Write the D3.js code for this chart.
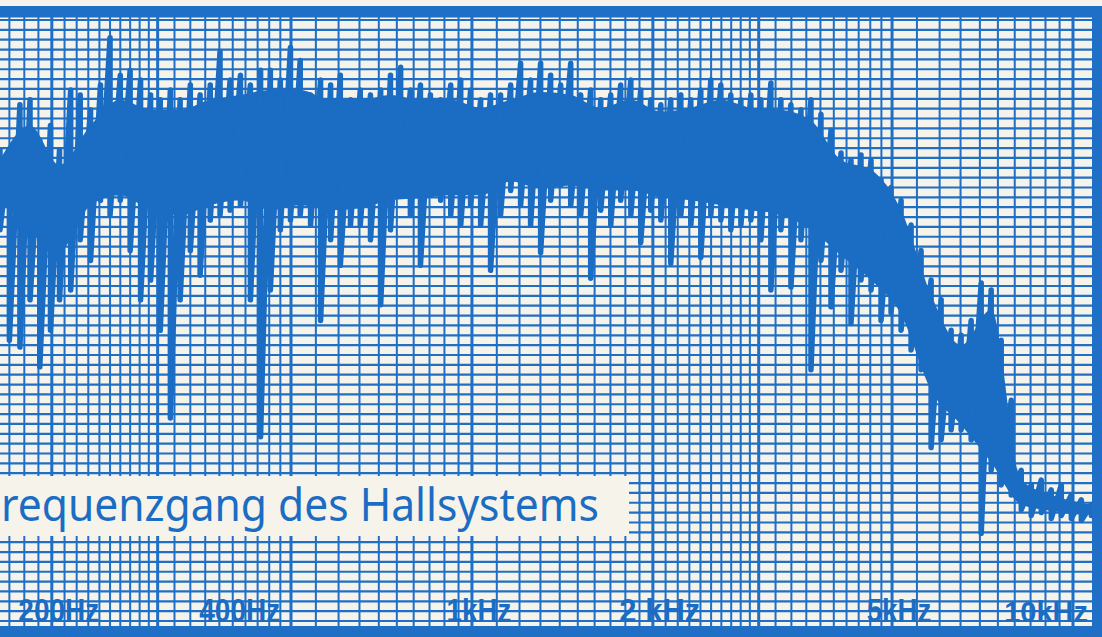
<!DOCTYPE html>
<html><head><meta charset="utf-8">
<script src="https://cdn.jsdelivr.net/npm/d3@7"></script>
<style>html,body{margin:0;padding:0;background:#f6f3ea;} svg{display:block;}</style>
</head><body><svg id="c" width="1102" height="637"></svg>
<script>
// Sweep frequencies (Hz) at which the pen trace was read
const sweepHz = [164,170,177,184,191,199,206,215,223,232,
  241,250,260,270,281,292,303,315,327,340,
  353,367,381,396,412,428,445,462,480,499,
  518,539,560,582,604,628,652,678,705,732,
  761,790,821,853,887,922,958,995,1034,1074,
  1116,1160,1205,1252,1301,1352,1405,1460,1517,1576,
  1638,1702,1768,1838,1909,1984,2062,2142,2226,2313,
  2403,2497,2595,2696,2802,2911,3025,3143,3266,3394,
  3527,3665,3808,3957,4112,4272,4439,4613,4793,4981,
  5176,5378,5588,5807,6034,6270,6515,6770,7035,7310,
  7596,7893,8202,8523,8856,9202,9562,9936,10325,10729];
// Upper excursion of the pen (dB, 0 = top of the paper)
const peakDb = [-13.2,-13.2,-8.6,-8.1,-12.2,-10.7,-13.2,-7.1,-7.6,-9.1,
  -6.6,-1.8,-5.6,-5.1,-6.1,-7.6,-8.1,-7.1,-8.1,-6.6,
  -7.6,-6.6,-3.2,-6.1,-5.6,-6.6,-5.1,-5.1,-6.1,-2.8,
  -4.1,-7.6,-6.1,-6.6,-5.6,-8.1,-7.1,-7.6,-7.1,-5.6,
  -4.8,-7.1,-6.6,-7.6,-8.1,-6.6,-6.1,-7.1,-8.1,-7.6,
  -7.6,-6.6,-4.4,-6.1,-4.4,-5.6,-6.6,-4.4,-7.6,-7.1,
  -8.1,-7.6,-6.6,-6.1,-7.1,-8.1,-8.6,-8.1,-7.6,-8.1,
  -7.1,-6.1,-6.6,-7.6,-8.1,-7.6,-8.1,-6.4,-8.1,-8.6,
  -9.1,-8.1,-9.6,-11.2,-13.5,-14.2,-13.7,-14.2,-16.2,-17.0,
  -18.3,-20.8,-23.4,-26.4,-28.4,-31.5,-32.0,-30.5,-26.7,-27.4,
  -32.5,-38.6,-45.7,-47.2,-46.7,-47.7,-47.2,-48.2,-48.7,-49.2];
// Lower excursion of the pen (dB)
const dipDb = [-21.3,-32.5,-33.2,-28.4,-35.2,-31.5,-28.4,-27.4,-22.3,-24.4,
  -18.3,-19.8,-18.3,-23.4,-28.4,-26.4,-31.5,-40.4,-28.4,-23.4,
  -25.9,-20.3,-19.8,-19.3,-18.8,-28.4,-42.3,-27.4,-21.3,-20.3,
  -19.8,-20.8,-30.5,-22.3,-24.9,-20.8,-20.8,-22.3,-28.9,-21.3,
  -17.8,-19.8,-24.9,-17.8,-18.3,-19.8,-20.8,-18.8,-20.8,-25.4,
  -19.8,-17.3,-18.8,-20.8,-23.6,-18.3,-16.8,-18.8,-19.8,-26.2,
  -19.3,-20.8,-18.3,-19.8,-22.6,-19.3,-20.3,-24.7,-19.8,-20.8,
  -24.1,-19.8,-20.3,-21.3,-20.8,-20.3,-22.3,-27.4,-21.3,-27.1,
  -22.3,-35.5,-24.4,-29.1,-25.4,-30.8,-26.4,-27.4,-30.5,-29.7,
  -31.5,-33.5,-35.5,-43.4,-42.6,-41.6,-41.6,-42.6,-52.1,-45.7,
  -47.2,-48.2,-49.7,-50.3,-50.0,-50.6,-50.3,-50.6,-50.8,-50.3];
// Dense (solid) band of the trace
const coreHz = [164,184,206,232,260,292,327,367,412,462,
  518,582,652,732,821,922,1034,1160,1301,1460,
  1638,1838,2062,2313,2595,2911,3266,3665,4112,4613,
  5176,5807,6515,7310,8202,9202,10325,10729];
const coreTopDb = [-14.2,-10.7,-14.7,-10.7,-8.1,-9.1,-9.1,-8.1,-7.6,-7.1,
  -7.1,-8.1,-8.1,-7.6,-8.1,-8.1,-8.9,-8.1,-7.3,-7.6,
  -8.9,-8.1,-9.3,-8.9,-8.1,-8.9,-9.1,-10.2,-14.2,-15.2,
  -19.3,-27.9,-33.0,-29.4,-46.7,-48.2,-49.0,-49.2];
const coreBotDb = [-18.3,-21.3,-23.4,-18.8,-17.8,-19.3,-19.8,-18.8,-18.3,-19.3,
  -18.8,-19.3,-19.1,-18.3,-18.1,-17.8,-17.8,-16.4,-17.1,-16.8,
  -17.3,-17.3,-18.0,-18.3,-18.8,-19.3,-19.8,-21.3,-23.9,-26.4,
  -29.9,-37.6,-41.1,-44.9,-49.2,-49.8,-50.2,-49.9];
const tickHz = [200, 400, 1000, 2000, 5000, 10000];
const tickLabels = ["200Hz", "400Hz", "1kHz", "2 kHz", "5kHz", "10kHz"];
const majorHz = [200, 300, 500, 1000, 2000, 3000, 5000, 10000];
const titleText = "requenzgang des Hallsystems";

const W = 1102, H = 637;
const paper = "#f6f3ea", blue = "#1f6fc6", ink = "#1b6cc3";
const x = d3.scaleLog().domain([164, 11090]).range([0, 1100]);
const y = d3.scaleLinear().domain([0, -61]).range([20, 621]);

const svg = d3.select("#c");
svg.append("rect").attr("width", W).attr("height", H).attr("fill", paper);

// paper grid
const gridHz = [].concat(d3.range(160, 300, 10), d3.range(300, 500, 20), d3.range(500, 1000, 50),
  d3.range(1000, 3000, 100), d3.range(3000, 5000, 200), d3.range(5000, 10000, 500), d3.range(10000, 12001, 1000));
const grid = svg.append("g");
grid.selectAll("line.h").data(d3.range(0, -62, -1)).join("line")
  .attr("x1", 0).attr("x2", 1093).attr("y1", d => y(d)).attr("y2", d => y(d))
  .attr("stroke", blue).attr("stroke-width", 2.2);
grid.selectAll("line.v").data(gridHz).join("line")
  .attr("x1", d => x(d)).attr("x2", d => x(d)).attr("y1", 17).attr("y2", 627)
  .attr("stroke", blue).attr("stroke-width", d => majorHz.includes(d) ? 3 : 2);

// solid body of the pen trace
const core = coreHz.map((f, i) => [f, coreTopDb[i], coreBotDb[i]]);
svg.append("path")
  .attr("d", d3.area().x(d => x(d[0])).y0(d => y(d[2])).y1(d => y(d[1])).curve(d3.curveMonotoneX)(core))
  .attr("fill", ink);

// pen trace
const pts = sweepHz.flatMap((f, i) => [[f, peakDb[i]], [f, dipDb[i]]]);
const line = d3.line().x(d => x(d[0])).y(d => y(d[1]));
svg.append("path").attr("d", line(pts)).attr("fill", "none")
  .attr("stroke", ink).attr("stroke-width", 5.5)
  .attr("stroke-linejoin", "round").attr("stroke-linecap", "round");

// title box
svg.append("rect").attr("x", 0).attr("y", 476).attr("width", 629).attr("height", 60).attr("fill", paper);
svg.append("text").attr("x", 1).attr("y", 521).text(titleText)
  .attr("font-family", "'Noto Sans', 'DejaVu Sans', sans-serif").attr("font-size", 45)
  .attr("fill", ink).attr("textLength", 598).attr("lengthAdjust", "spacingAndGlyphs");

// frequency labels
const lastI = tickHz.length - 1;
const lbl = svg.append("g").selectAll("text").data(tickHz).join("text")
  .attr("x", (d, i) => i === lastI ? 1088 : x(d) + 7)
  .attr("y", 622).attr("text-anchor", (d, i) => i === lastI ? "end" : "middle")
  .attr("font-family", "'Liberation Sans Narrow', 'Liberation Sans', Arial, sans-serif")
  .attr("font-weight", "bold").attr("font-size", (d, i) => i === lastI ? 29 : 34).attr("fill", ink)
  .text((d, i) => tickLabels[i]);
lbl.each(function (d, i) {
  if (i === lastI) return;
  const w = this.getComputedTextLength();
  const target = this.textContent.length * 16.2;
  if (w > target + 3) { d3.select(this).attr("textLength", target).attr("lengthAdjust", "spacingAndGlyphs"); }
});

// heavy paper borders
svg.append("rect").attr("x", 0).attr("y", 6).attr("width", W).attr("height", 11.5).attr("fill", blue);
svg.append("rect").attr("x", 0).attr("y", 626).attr("width", W).attr("height", 11).attr("fill", blue);
svg.append("rect").attr("x", 1092).attr("y", 6).attr("width", 10).attr("height", 631).attr("fill", blue);
</script></body></html>
